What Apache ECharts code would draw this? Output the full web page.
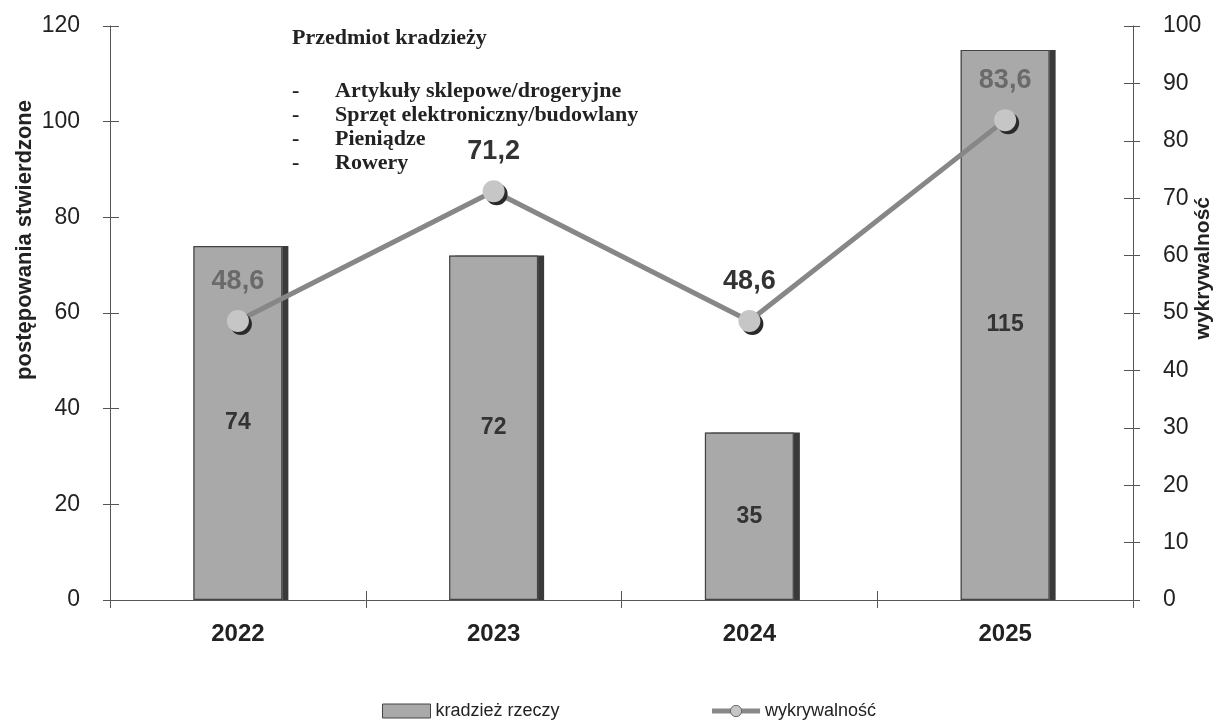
<!DOCTYPE html>
<html>
<head>
<meta charset="utf-8">
<script src="https://cdn.jsdelivr.net/npm/echarts@6/dist/echarts.min.js"></script>
<style>
  html, body { margin: 0; padding: 0; background: #fff; }
  #chart { width: 1227px; height: 725px; }
</style>
</head>
<body>
<div id="chart"></div>
<script>
// dane
const years = ['2022', '2023', '2024', '2025']
const kradziez = [74, 72, 35, 115]
const wykrywalnosc = [48.6, 71.2, 48.6, 83.6]
const leftTicks = [0, 20, 40, 60, 80, 100, 120]
const rightTicks = [0, 10, 20, 30, 40, 50, 60, 70, 80, 90, 100]
const przedmioty = ['Artykuły sklepowe/drogeryjne', 'Sprzęt elektroniczny/budowlany', 'Pieniądze', 'Rowery']

const sans = '"Liberation Sans", Arial, sans-serif'
const serif = '"Liberation Serif", "DejaVu Serif", serif'

// kolor etykiety linii - jasniejszy gdy punkt lezy na slupku
const lineLabelColor = ['#6a6a6a', '#333', '#333', '#6a6a6a']

const chart = echarts.init(document.getElementById('chart'))

const listItems = []
przedmioty.forEach((p, i) => {
  listItems.push({
    type: 'text', left: 292, top: 80 + i * 24,
    style: { text: '-', font: 'bold 22px ' + serif, fill: '#222' }
  })
  listItems.push({
    type: 'text', left: 335, top: 80 + i * 24,
    style: { text: p, font: 'bold 22px ' + serif, fill: '#222' }
  })
})

const axisLineStyle = { show: true, lineStyle: { color: '#555' } }
// druga, ukryta os - kreski po wewnetrznej stronie (kreski przecinaja os)
const innerTicks = { show: true, inside: true, length: 9, lineStyle: { color: '#555' } }

const option = {
  animation: false,
  grid: { left: 110, right: 94, top: 26, bottom: 125 },
  legend: {
    left: 377,
    top: 697,
    itemGap: 150,
    itemWidth: 48,
    itemHeight: 14,
    itemTextGap: 3,
    textStyle: { fontFamily: sans, fontSize: 18, color: '#222' },
    data: [
      { name: 'kradzież rzeczy', icon: 'rect', itemStyle: { borderColor: '#444', borderWidth: 1, shadowOffsetX: 0, shadowColor: 'transparent' } },
      { name: 'wykrywalność', lineStyle: { width: 5, color: '#888' }, itemStyle: { shadowOffsetX: 0, shadowOffsetY: 0, shadowColor: 'transparent', borderColor: '#666', borderWidth: 1 } }
    ]
  },
  graphic: [
    {
      type: 'text', left: 292, top: 27,
      style: { text: 'Przedmiot kradzieży', font: 'bold 22px ' + serif, fill: '#222' }
    },
    ...listItems,
    {
      type: 'text', left: 14, top: 100, rotation: Math.PI / 2,
      style: { text: 'postępowania stwierdzone', font: 'bold 22px ' + sans, fill: '#222' }
    },
    {
      type: 'text', left: 1193, top: 197, rotation: Math.PI / 2,
      style: { text: 'wykrywalność', font: 'bold 21px ' + sans, fill: '#222' }
    }
  ],
  xAxis: [
    {
      type: 'category',
      data: years,
      axisLine: { lineStyle: { color: '#555', width: 1 } },
      axisTick: { show: true, length: 8, lineStyle: { color: '#555' } },
      axisLabel: { margin: 22, fontFamily: sans, fontWeight: 'bold', fontSize: 24, color: '#222' }
    },
    {
      type: 'category',
      data: years,
      position: 'bottom',
      axisLine: { show: false },
      axisTick: innerTicks,
      axisLabel: { show: false }
    }
  ],
  yAxis: [
    {
      type: 'value', min: 0, max: 120, interval: 20,
      axisLine: axisLineStyle,
      axisTick: { show: true, length: 7, lineStyle: { color: '#555' } },
      splitLine: { show: false },
      axisLabel: {
        margin: 30, fontFamily: sans, fontSize: 23, color: '#222',
        formatter: v => leftTicks.includes(v) ? String(v) : ''
      }
    },
    {
      type: 'value', min: 0, max: 100, interval: 10,
      axisLine: axisLineStyle,
      axisTick: { show: true, length: 7, lineStyle: { color: '#555' } },
      splitLine: { show: false },
      axisLabel: {
        margin: 30, fontFamily: sans, fontSize: 23, color: '#222',
        formatter: v => rightTicks.includes(v) ? String(v) : ''
      }
    },
    {
      type: 'value', min: 0, max: 120, interval: 20, position: 'left',
      axisLine: { show: false },
      axisTick: innerTicks,
      axisLabel: { show: false },
      splitLine: { show: false }
    },
    {
      type: 'value', min: 0, max: 100, interval: 10, position: 'right',
      axisLine: { show: false },
      axisTick: innerTicks,
      axisLabel: { show: false },
      splitLine: { show: false }
    }
  ],
  series: [
    {
      name: 'kradzież rzeczy',
      type: 'bar',
      data: kradziez,
      barWidth: 89,
      itemStyle: {
        color: '#a9a9a9',
        shadowColor: '#3a3a3a',
        shadowOffsetX: 6,
        shadowOffsetY: 0,
        shadowBlur: 0
      },
      label: {
        show: true,
        position: 'inside',
        fontFamily: sans,
        fontWeight: 'bold',
        fontSize: 23,
        color: '#333'
      }
    },
    {
      // sama obwodka slupkow
      name: 'obwodka',
      type: 'bar',
      data: kradziez,
      barWidth: 89,
      barGap: '-100%',
      silent: true,
      itemStyle: { color: 'transparent', borderColor: '#444', borderWidth: 1.2 }
    },
    {
      name: 'wykrywalność',
      type: 'line',
      yAxisIndex: 1,
      data: wykrywalnosc.map((v, i) => ({
        value: v,
        label: { color: lineLabelColor[i] }
      })),
      symbol: 'circle',
      symbolSize: 22,
      z: 5,
      lineStyle: { color: '#878787', width: 5 },
      itemStyle: {
        color: '#c6c6c6',
        borderWidth: 0,
        shadowColor: '#2a2a2a',
        shadowOffsetX: 3,
        shadowOffsetY: 3,
        shadowBlur: 0
      },
      label: {
        show: true,
        position: 'top',
        distance: 15,
        fontFamily: sans,
        fontWeight: 'bold',
        fontSize: 27,
        formatter: p => String(p.value).replace('.', ',')
      }
    }
  ]
}

chart.setOption(option)
</script>
</body>
</html>
